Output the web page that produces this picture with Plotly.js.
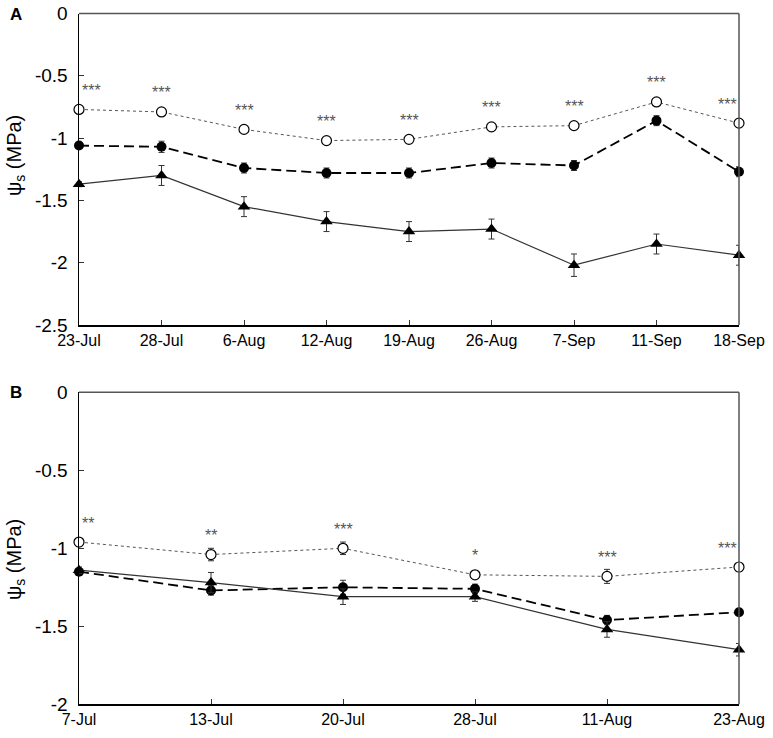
<!DOCTYPE html>
<html>
<head>
<meta charset="utf-8">
<script src="https://cdn.plot.ly/plotly-3.0.1.min.js"></script>
<style>html,body{margin:0;padding:0;background:#fff;}#chart{width:773px;height:738px;}</style>
</head>
<body>
<div id="chart"></div>
<script>
// Panel A data
const datesA = ['23-Jul','28-Jul','6-Aug','12-Aug','19-Aug','26-Aug','7-Sep','11-Sep','18-Sep'];
const openA = [-0.77,-0.79,-0.93,-1.02,-1.01,-0.91,-0.90,-0.71,-0.88];
const openErrA = [0.02,0.02,0.02,0.02,0.02,0.02,0.02,0.02,0.02];
const filledA = [-1.06,-1.07,-1.24,-1.28,-1.28,-1.20,-1.22,-0.86,-1.27];
const filledErrA = [0.02,0.045,0.04,0.04,0.04,0.04,0.04,0.04,0.04];
const triA = [-1.37,-1.30,-1.55,-1.67,-1.75,-1.73,-2.02,-1.85,-1.94];
const triErrA = [0.02,0.08,0.08,0.08,0.08,0.08,0.09,0.08,0.08];
const sigA = ['***','***','***','***','***','***','***','***','***'];

// Panel B data
const datesB = ['7-Jul','13-Jul','20-Jul','28-Jul','11-Aug','23-Aug'];
const openB = [-0.96,-1.04,-1.00,-1.17,-1.18,-1.12];
const openErrB = [0.01,0.04,0.04,0.02,0.045,0.01];
const filledB = [-1.15,-1.27,-1.25,-1.26,-1.46,-1.41];
const filledErrB = [0.02,0.03,0.045,0.03,0.03,0.02];
const triB = [-1.14,-1.22,-1.31,-1.31,-1.52,-1.65];
const triErrB = [0.02,0.065,0.05,0.03,0.05,0.04];
const sigB = ['**','**','***','*','***','***'];

const yTicksA = [0,-0.5,-1,-1.5,-2,-2.5];
const yTicksB = [0,-0.5,-1,-1.5,-2];

function err(a){return {type:'data',array:a,visible:true,color:'#333',thickness:1,width:3};}

function series(x, y, e, xa, ya, kind){
  const base = {x:x, y:y, xaxis:xa, yaxis:ya, type:'scatter', mode:'lines+markers', cliponaxis:false, showlegend:false, error_y:err(e)};
  if(kind==='open'){
    base.line = {color:'#555', width:1, dash:'dot'};
    base.marker = {symbol:'circle', size:10, color:'#fff', line:{color:'#000', width:1.2}};
  } else if(kind==='filled'){
    base.line = {color:'#000', width:1.8, dash:'10px,5px'};
    base.marker = {symbol:'circle', size:10, color:'#000'};
  } else {
    base.line = {color:'#333', width:1.2};
    base.marker = {symbol:'triangle-up', size:11, color:'#000'};
  }
  return base;
}

const data = [
  series(datesA, openA, openErrA, 'x', 'y', 'open'),
  series(datesA, filledA, filledErrA, 'x', 'y', 'filled'),
  series(datesA, triA, triErrA, 'x', 'y', 'tri'),
  series(datesB, openB, openErrB, 'x2', 'y2', 'open'),
  series(datesB, filledB, filledErrB, 'x2', 'y2', 'filled'),
  series(datesB, triB, triErrB, 'x2', 'y2', 'tri')
];

const fontFam = 'Liberation Sans, Arial, sans-serif';
const xDom = [79/773, 739/773];

function xaxis(cats){
  return {domain:xDom, type:'category', range:[0, cats.length-1], showgrid:false, zeroline:false,
    showline:true, linecolor:'#000', linewidth:1.5, ticks:'inside', ticklen:5, tickcolor:'#333', tickwidth:1,
    tickfont:{family:fontFam, size:16, color:'#000'}, fixedrange:true};
}
function yaxis(dom, rng, tv, anchor){
  return {domain:dom, range:rng, tickvals:tv, ticktext:tv.map(v=>String(v)), showgrid:false, zeroline:false,
    showline:true, linecolor:'#000', linewidth:1.5, ticks:'inside', ticklen:5, tickcolor:'#333', tickwidth:1,
    ticklabelstandoff:6, tickfont:{family:fontFam, size:19, color:'#000'}, anchor:anchor, fixedrange:true};
}

const annotations = [];
function addSig(cats, vals, sig, xa, ya){
  cats.forEach((c,i)=>{
    let anchor='center', shift=0;
    if(i===0){anchor='left'; shift=1;}
    if(i===cats.length-1){anchor='right'; shift=0;}
    annotations.push({x:c, y:vals[i], xref:xa, yref:ya, text:sig[i], showarrow:false,
      xanchor:anchor, xshift:shift, yanchor:'middle', yshift:19,
      font:{family:fontFam, size:16, color:'#555'}});
  });
}
addSig(datesA, openA, sigA, 'x', 'y');
addSig(datesB, openB, sigB, 'x2', 'y2');

annotations.push({x:16/773, y:1-15/738, xref:'paper', yref:'paper', text:'<b>A</b>', showarrow:false, xanchor:'center', yanchor:'middle', font:{family:fontFam, size:17, color:'#000'}});
annotations.push({x:16/773, y:1-393/738, xref:'paper', yref:'paper', text:'<b>B</b>', showarrow:false, xanchor:'center', yanchor:'middle', font:{family:fontFam, size:17, color:'#000'}});
annotations.push({x:15/773, y:1-156/738, xref:'paper', yref:'paper', text:'ψ<sub>s</sub> (MPa)', textangle:-90, showarrow:false, xanchor:'center', yanchor:'middle', font:{family:fontFam, size:20, color:'#000'}});
annotations.push({x:15/773, y:1-560/738, xref:'paper', yref:'paper', text:'ψ<sub>s</sub> (MPa)', textangle:-90, showarrow:false, xanchor:'center', yanchor:'middle', font:{family:fontFam, size:20, color:'#000'}});

const yDomA = [1-325/738, 1-13.5/738];
const yDomB = [1-704.3/738, 1-392.3/738];

const shapes = [
  {type:'line', xref:'paper', yref:'paper', x0:xDom[0], x1:xDom[1], y0:yDomA[1], y1:yDomA[1], line:{color:'#555', width:1.5}},
  {type:'line', xref:'paper', yref:'paper', x0:xDom[1], x1:xDom[1], y0:yDomA[0], y1:yDomA[1], line:{color:'#555', width:1.5}},
  {type:'line', xref:'paper', yref:'paper', x0:xDom[0], x1:xDom[1], y0:yDomB[1], y1:yDomB[1], line:{color:'#555', width:1.5}},
  {type:'line', xref:'paper', yref:'paper', x0:xDom[1], x1:xDom[1], y0:yDomB[0], y1:yDomB[1], line:{color:'#555', width:1.5}}
];

const layout = {
  width:773, height:738, margin:{l:0, r:0, t:0, b:0},
  paper_bgcolor:'#fff', plot_bgcolor:'#fff',
  font:{family:fontFam, color:'#000'},
  xaxis: Object.assign(xaxis(datesA), {anchor:'y'}),
  yaxis: yaxis(yDomA, [-2.5, 0], yTicksA, 'x'),
  xaxis2: Object.assign(xaxis(datesB), {anchor:'y2'}),
  yaxis2: yaxis(yDomB, [-2, 0], yTicksB, 'x2'),
  annotations: annotations,
  shapes: shapes,
  showlegend:false
};

Plotly.newPlot('chart', data, layout, {displayModeBar:false, staticPlot:true});
</script>
</body>
</html>
